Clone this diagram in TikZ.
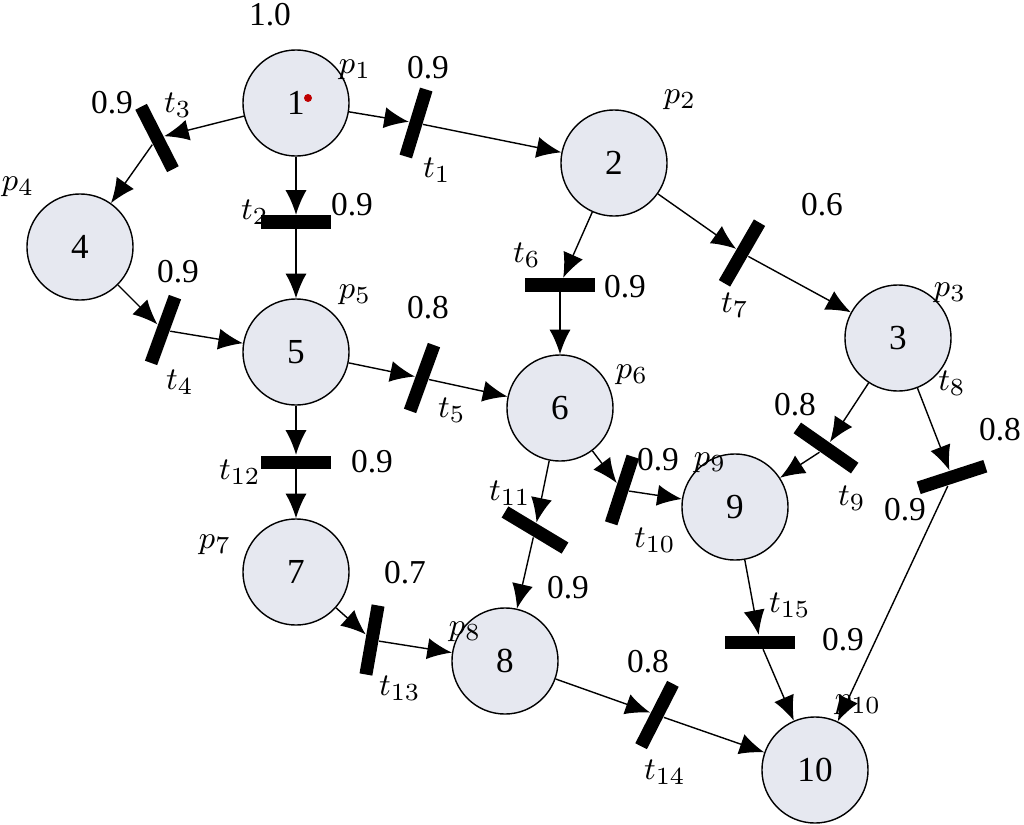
\documentclass[tikz,border=0pt]{standalone}
\usepackage{fontspec}
\setmainfont{Liberation Serif}
\usetikzlibrary{arrows.meta}
\begin{document}
\begin{tikzpicture}[x=0.01cm,y=-0.01cm,
  pl/.style={circle,draw,line width=0.4pt,fill={rgb,255:red,230;green,232;blue,240},minimum size=1.06cm,inner sep=0pt,font=\fontsize{10}{12}\selectfont},
  tr/.style={rectangle,fill=black,minimum width=0.13cm,minimum height=0.7cm,inner sep=0pt,rotate=#1},
  lb/.style={font=\fontsize{9.5}{11}\selectfont},
  arc/.style={-{Latex[length=7pt,width=6pt]},line width=0.4pt}]
\useasboundingbox (0,0) rectangle (1024,824);
\node[pl] (p1) at (296,103) {1};
\node[pl] (p2) at (614,163) {2};
\node[pl] (p3) at (898,338) {3};
\node[pl] (p4) at (80,247) {4};
\node[pl] (p5) at (296,352) {5};
\node[pl] (p6) at (560,408) {6};
\node[pl] (p7) at (296,572) {7};
\node[pl] (p8) at (505,661) {8};
\node[pl] (p9) at (735,507) {9};
\node[pl] (p10) at (815,770) {10};
\fill[red!75!black] (308,98) circle (4);
\node[tr=-17] (t1) at (416,123) {};
\node[tr=90] (t2) at (296,222) {};
\node[tr=27] (t3) at (157,138) {};
\node[tr=-20] (t4) at (163,330) {};
\node[tr=-20] (t5) at (422,378) {};
\node[tr=90] (t6) at (560,285) {};
\node[tr=-30] (t7) at (742,253) {};
\node[tr=-72] (t8) at (952,477) {};
\node[tr=55] (t9) at (826,448) {};
\node[tr=-18] (t10) at (622,490) {};
\node[tr=59] (t11) at (535,530) {};
\node[tr=90] (t12) at (296,462) {};
\node[tr=-10] (t13) at (372,640) {};
\node[tr=-27] (t14) at (657,715) {};
\node[tr=90] (t15) at (760,642) {};
\foreach \a/\t/\b in {p1/t1/p2,p1/t2/p5,p1/t3/p4,p4/t4/p5,p5/t5/p6,p2/t6/p6,p2/t7/p3,p3/t8/p10,p3/t9/p9,p6/t10/p9,p6/t11/p8,p5/t12/p7,p7/t13/p8,p8/t14/p10,p9/t15/p10}{
  \draw[arc] (\a) -- (\t); \draw[arc] (\t) -- (\b);}
\node[lb] (l1) at (355,70) {$p_1$};
\node[lb] (l2) at (680,100) {$p_2$};
\node[lb] (l3) at (950,293) {$p_3$};
\node[lb] (l4) at (18,187) {$p_4$};
\node[lb] (l5) at (355,295) {$p_5$};
\node[lb] (l6) at (632,375) {$p_6$};
\node[lb] (l7) at (215,545) {$p_7$};
\node[lb] (l8) at (465,632) {$p_8$};
\node[lb] (l9) at (710,463) {$p_9$};
\node[lb] (l10) at (858,705) {$p_{10}$};
\node[lb] (w0) at (270,15) {1.0};
\node[lb] (u1) at (437,170) {$t_1$};
\node[lb] (w1) at (428,68) {0.9};
\node[lb] (u2) at (255,212) {$t_2$};
\node[lb] (w2) at (352,205) {0.9};
\node[lb] (u3) at (178,105) {$t_3$};
\node[lb] (w3) at (112,103) {0.9};
\node[lb] (u4) at (180,382) {$t_4$};
\node[lb] (w4) at (178,272) {0.9};
\node[lb] (u5) at (452,410) {$t_5$};
\node[lb] (w5) at (428,308) {0.8};
\node[lb] (u6) at (527,255) {$t_6$};
\node[lb] (w6) at (625,287) {0.9};
\node[lb] (u7) at (735,305) {$t_7$};
\node[lb] (w7) at (822,205) {0.6};
\node[lb] (u8) at (952,383) {$t_8$};
\node[lb] (w8) at (1000,430) {0.8};
\node[lb] (w8b) at (905,510) {0.9};
\node[lb] (u9) at (852,498) {$t_9$};
\node[lb] (w9) at (795,405) {0.8};
\node[lb] (u10) at (655,540) {$t_{10}$};
\node[lb] (w10) at (658,460) {0.9};
\node[lb] (u11) at (510,493) {$t_{11}$};
\node[lb] (w11) at (568,588) {0.9};
\node[lb] (u12) at (240,472) {$t_{12}$};
\node[lb] (w12) at (372,462) {0.9};
\node[lb] (u13) at (400,688) {$t_{13}$};
\node[lb] (w13) at (405,573) {0.7};
\node[lb] (u14) at (665,772) {$t_{14}$};
\node[lb] (w14) at (648,662) {0.8};
\node[lb] (u15) at (790,605) {$t_{15}$};
\node[lb] (w15) at (843,640) {0.9};
\end{tikzpicture}
\end{document}
